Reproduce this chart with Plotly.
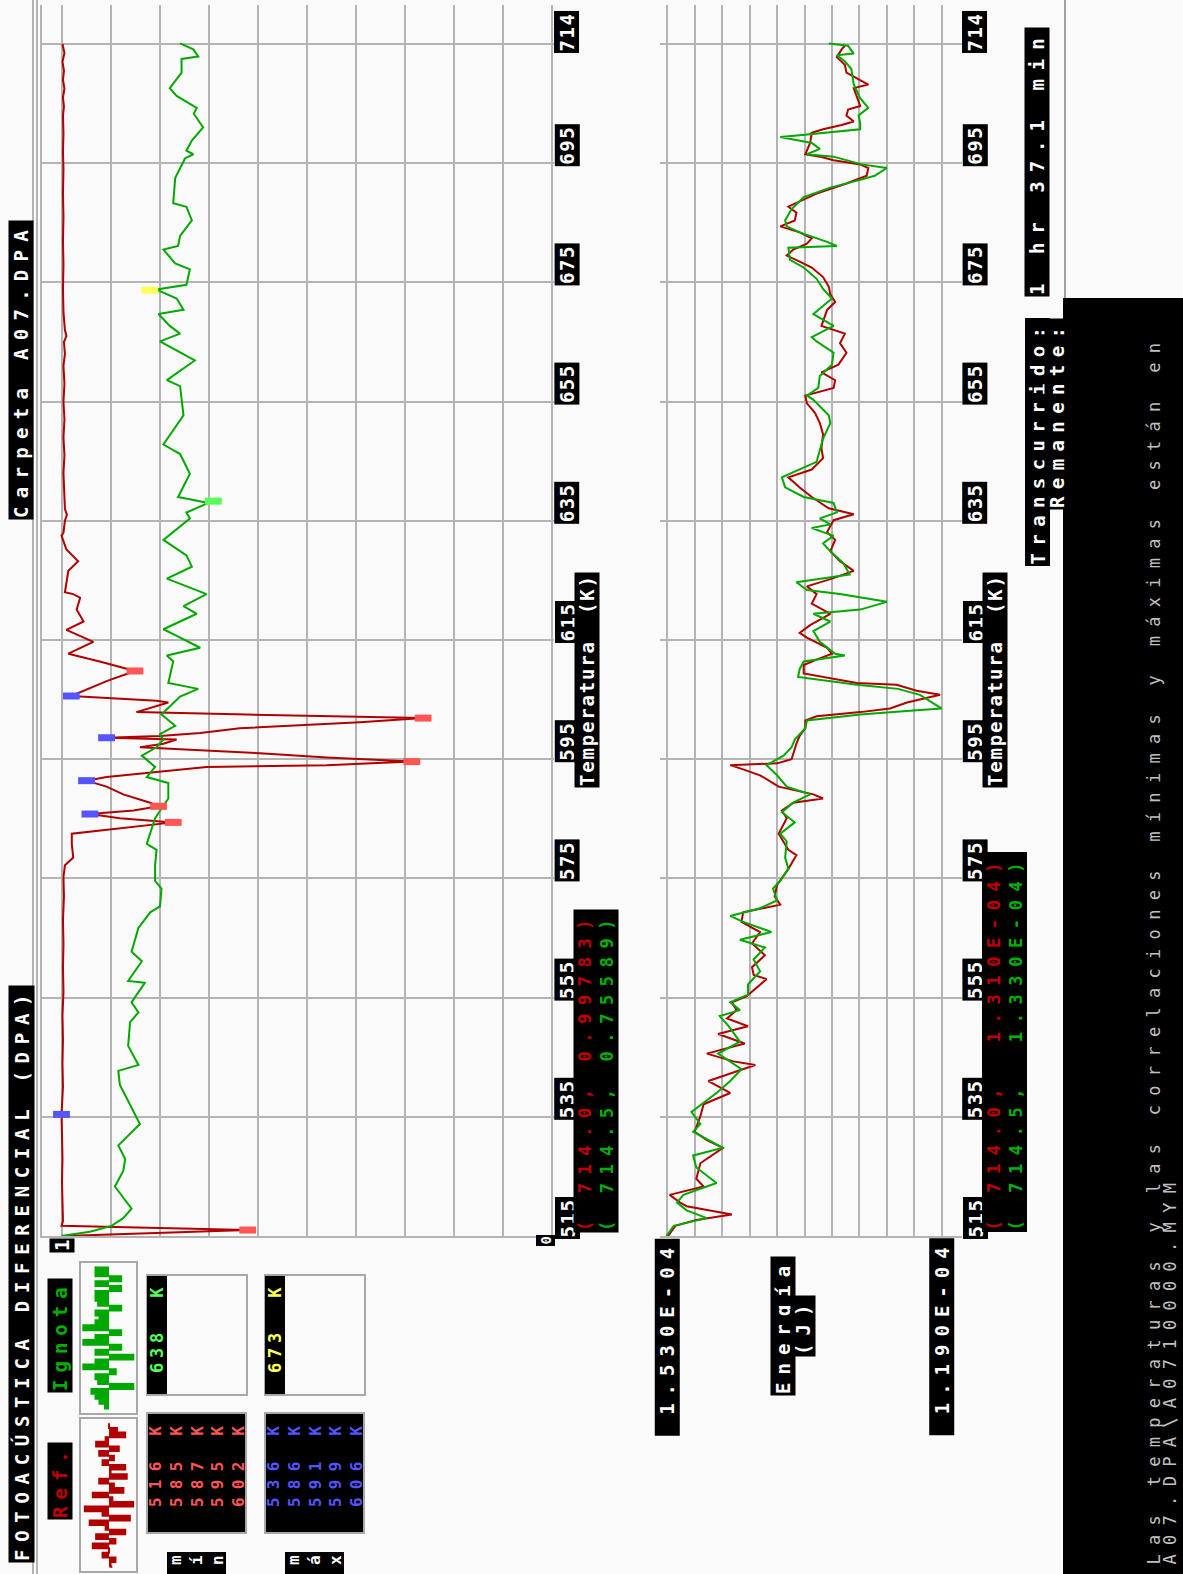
import plotly.graph_objects as go

W, H = 1183, 1574

# ------------------------------------------------------------------ data
temp_ticks = [515, 535, 555, 575, 595, 615, 635, 655, 675, 695, 714]

# correlation, reference sample (T [K], correlation)
ref_corr_pts = [
    (715.0, 0.998), (713.5, 0.994), (712.0, 0.998), (710.5, 0.995), (709.0, 0.997), (707.5, 0.994),
    (706.0, 0.997), (704.5, 0.995), (703.0, 0.997), (700.0, 0.996), (697.0, 0.997), (694.0, 0.996),
    (690.0, 0.997), (686.0, 0.996), (682.0, 0.997), (678.0, 0.996), (674.0, 0.997), (670.0, 0.996),
    (667.0, 0.993), (666.0, 0.990), (665.0, 0.995), (663.0, 0.993), (661.0, 0.996), (658.0, 0.994),
    (655.0, 0.996), (652.0, 0.994), (649.0, 0.996), (646.0, 0.994), (643.0, 0.996), (640.0, 0.994),
    (637.0, 0.993), (636.0, 0.989), (635.0, 0.993), (633.0, 0.996), (632.5, 1.000), (630.2, 0.990),
    (628.2, 0.966), (626.6, 0.986), (623.0, 0.993), (622.7, 0.976), (622.1, 0.962), (620.1, 0.969),
    (618.1, 0.955), (616.7, 0.990), (614.7, 0.935), (612.7, 0.986), (611.4, 0.922), (609.8, 0.850),
    (608.1, 0.908), (605.6, 0.980), (605.2, 0.901), (604.8, 0.806), (604.5, 0.782), (602.9, 0.847),
    (602.5, 0.622), (601.9, 0.262), (601.2, 0.391), (600.2, 0.636), (599.4, 0.717), (598.9, 0.799),
    (598.6, 0.908), (598.3, 0.765), (597.6, 0.792), (597.0, 0.840), (596.0, 0.595), (595.3, 0.459),
    (594.6, 0.285), (594.0, 0.459), (593.7, 0.704), (593.0, 0.785), (592.0, 0.908), (591.4, 0.949),
    (590.4, 0.908), (589.1, 0.874), (587.7, 0.819), (587.1, 0.802), (586.4, 0.853), (585.8, 0.942),
    (585.1, 0.881), (584.4, 0.772), (583.8, 0.840), (582.5, 0.979), (580.8, 0.979), (578.5, 0.976),
    (577.2, 0.993), (575.2, 0.996), (572.0, 0.995), (568.0, 0.997), (564.0, 0.996), (560.0, 0.997),
    (556.0, 0.996), (552.0, 0.998), (548.0, 0.997), (544.0, 0.998), (540.0, 0.997), (536.0, 0.999),
    (535.4, 1.000), (532.0, 0.999), (528.0, 0.998), (524.0, 0.999), (520.0, 0.998), (517.5, 0.997),
    (516.7, 1.000), (516.0, 0.620), (515.0, 0.995),
]

# correlation, unknown sample
ign_corr_pts = [
    (715.1, .758), (714.1, .731), (712.9, .721), (712.5, .755), (710.2, .755), (707.6, .779), (706.3, .765),
    (704.3, .724), (703.3, .730), (701.0, .711), (698.8, .734), (697.1, .745), (696.5, .731), (695.8, .748),
    (692.5, .768), (688.3, .772), (687.7, .745), (685.4, .734), (682.8, .758), (681.1, .762), (680.5, .792),
    (678.2, .768), (677.2, .738), (674.6, .745), (673.8, .806), (672.3, .765), (670.4, .751), (669.7, .802),
    (667.7, .779), (666.4, .758), (665.1, .799), (661.9, .728), (658.6, .785), (657.6, .758), (652.7, .751),
    (647.8, .792), (646.2, .758), (642.9, .738), (639.0, .762), (638.0, .700), (636.4, .745), (635.4, .738),
    (631.8, .792), (629.2, .745), (627.3, .734), (625.3, .785), (622.7, .704), (620.7, .751), (619.4, .724),
    (616.8, .792), (616.0, .772), (613.7, .717), (612.4, .785), (611.4, .772), (607.8, .782), (606.8, .721),
    (605.5, .758), (602.5, .796), (600.6, .768), (599.2, .799), (598.3, .792), (597.0, .806), (595.6, .836),
    (593.7, .809), (592.0, .826), (591.0, .782), (588.4, .782), (585.1, .809), (580.8, .826), (579.8, .806),
    (577.2, .809), (574.6, .809), (573.3, .796), (570.3, .799), (569.3, .819), (566.7, .843), (562.7, .857),
    (561.1, .836), (557.8, .864), (557.5, .830), (554.2, .857), (552.5, .843), (550.9, .860), (546.9, .864),
    (543.7, .843), (542.7, .884), (540.4, .881), (533.8, .840), (530.2, .884), (527.9, .870), (525.9, .874),
    (523.3, .891), (519.6, .857), (518.0, .874), (516.7, .898), (515.7, .942), (515.0, 1.000),
]

# extremes of the correlation
ref_min_T = [516.0, 584.4, 587.1, 594.6, 601.9, 609.8]
ref_min_v = [0.620, 0.772, 0.802, 0.285, 0.262, 0.850]
ref_max_T = [535.4, 585.8, 591.4, 598.6, 605.6]
ref_max_v = [1.000, 0.942, 0.949, 0.908, 0.980]
ign_min_T = [638.3]
ign_min_v = [0.690]
ign_max_T = [673.7]
ign_max_v = [0.820]

# energy (units of 1e-4 J)
ref_en_pts = [
    (714.7, 1.310), (714.1, 1.314), (712.8, 1.320), (711.5, 1.310), (710.2, 1.308), (708.9, 1.291), (708.2, 1.281),
    (707.6, 1.299), (705.9, 1.295), (704.6, 1.291), (704.0, 1.306), (703.0, 1.308), (702.0, 1.299), (701.4, 1.314),
    (700.7, 1.337), (700.1, 1.351), (698.4, 1.353), (696.5, 1.359), (696.1, 1.341), (695.5, 1.324), (694.8, 1.291),
    (694.2, 1.281), (692.9, 1.283), (691.6, 1.308), (689.9, 1.345), (688.6, 1.366), (687.7, 1.380), (686.7, 1.370),
    (685.4, 1.372), (684.4, 1.390), (683.4, 1.366), (682.4, 1.351), (681.5, 1.357), (680.5, 1.374), (679.5, 1.382),
    (678.5, 1.366), (677.5, 1.351), (675.9, 1.337), (674.3, 1.330), (673.0, 1.328), (671.7, 1.322), (670.4, 1.332),
    (667.7, 1.339), (666.4, 1.310), (664.8, 1.316), (663.2, 1.308), (661.2, 1.318), (659.9, 1.339), (658.6, 1.322),
    (657.3, 1.324), (656.0, 1.359), (654.7, 1.357), (653.1, 1.347), (651.4, 1.341), (649.5, 1.337), (647.2, 1.339),
    (645.5, 1.337), (643.6, 1.351), (642.3, 1.380), (640.6, 1.366), (639.0, 1.351), (637.1, 1.330), (636.1, 1.299),
    (635.1, 1.324), (633.1, 1.332), (631.8, 1.322), (629.9, 1.328), (628.2, 1.316), (626.6, 1.299), (625.3, 1.326),
    (624.0, 1.357), (622.7, 1.345), (621.1, 1.351), (619.4, 1.328), (617.5, 1.353), (616.2, 1.366), (615.4, 1.357),
    (613.7, 1.332), (612.7, 1.326), (611.7, 1.345), (610.8, 1.361), (609.4, 1.361), (608.5, 1.322), (607.8, 1.295),
    (607.5, 1.246), (606.5, 1.221), (605.8, 1.192), (605.2, 1.213), (604.5, 1.233), (603.5, 1.254), (602.9, 1.291),
    (602.2, 1.345), (601.5, 1.359), (600.2, 1.359), (598.9, 1.366), (597.6, 1.370), (595.0, 1.376), (594.3, 1.394),
    (594.0, 1.452), (593.3, 1.436), (592.3, 1.415), (590.4, 1.392), (589.1, 1.349), (588.4, 1.337), (587.7, 1.374),
    (586.4, 1.388), (585.1, 1.382), (582.5, 1.392), (579.8, 1.380), (578.9, 1.370), (576.6, 1.380), (573.9, 1.394),
    (572.0, 1.397), (570.6, 1.390), (570.0, 1.411), (569.3, 1.436), (567.7, 1.438), (566.0, 1.415), (564.1, 1.425),
    (562.1, 1.409), (560.1, 1.425), (558.8, 1.423), (558.1, 1.407), (556.2, 1.423), (555.2, 1.432), (554.2, 1.450),
    (552.9, 1.444), (551.5, 1.456), (550.2, 1.430), (548.9, 1.467), (547.3, 1.434), (545.6, 1.481), (544.3, 1.448),
    (543.7, 1.421), (542.0, 1.458), (541.0, 1.479), (539.0, 1.452), (537.1, 1.485), (535.1, 1.489), (532.5, 1.496),
    (531.1, 1.481), (529.8, 1.461), (527.2, 1.489), (524.6, 1.494), (523.3, 1.485), (521.9, 1.527), (520.6, 1.514),
    (520.0, 1.506), (518.6, 1.450), (517.7, 1.494), (516.7, 1.520), (515.0, 1.529),
]

ign_en_pts = [
    (715.1, 1.330), (714.7, 1.306), (713.4, 1.299), (713.1, 1.320), (712.1, 1.310), (710.8, 1.302), (708.2, 1.299),
    (705.9, 1.291), (704.3, 1.281), (703.0, 1.293), (701.7, 1.291), (700.7, 1.291), (699.7, 1.366), (699.4, 1.390),
    (698.4, 1.351), (697.4, 1.341), (696.5, 1.357), (696.1, 1.324), (694.8, 1.289), (694.2, 1.258), (692.9, 1.273),
    (692.2, 1.291), (690.9, 1.328), (689.3, 1.361), (687.3, 1.376), (685.4, 1.384), (684.4, 1.382), (683.4, 1.366),
    (681.8, 1.332), (681.1, 1.320), (680.8, 1.380), (678.8, 1.378), (677.5, 1.361), (675.6, 1.345), (673.9, 1.337),
    (672.3, 1.326), (669.7, 1.349), (668.7, 1.337), (667.7, 1.324), (665.8, 1.351), (665.1, 1.345), (663.2, 1.324),
    (661.2, 1.326), (659.3, 1.341), (657.3, 1.343), (656.0, 1.357), (655.3, 1.349), (652.7, 1.330), (651.4, 1.328),
    (648.8, 1.337), (644.9, 1.345), (642.3, 1.388), (640.6, 1.384), (639.0, 1.361), (638.0, 1.324), (636.4, 1.320),
    (635.4, 1.341), (634.4, 1.328), (633.8, 1.351), (633.1, 1.337), (632.5, 1.324), (631.2, 1.337), (629.9, 1.328),
    (627.9, 1.312), (626.0, 1.304), (624.7, 1.370), (623.4, 1.357), (622.7, 1.316), (621.4, 1.258), (620.1, 1.291),
    (619.4, 1.349), (618.1, 1.328), (616.5, 1.349), (614.7, 1.341), (612.7, 1.322), (612.4, 1.310), (611.4, 1.361),
    (610.1, 1.366), (608.8, 1.368), (607.5, 1.295), (606.8, 1.244), (605.8, 1.217), (603.5, 1.190), (603.2, 1.221),
    (602.5, 1.291), (601.5, 1.357), (600.2, 1.359), (598.3, 1.372), (597.0, 1.376), (595.6, 1.386), (594.0, 1.407),
    (592.3, 1.394), (590.4, 1.382), (589.1, 1.353), (587.7, 1.374), (586.1, 1.388), (584.4, 1.372), (582.5, 1.390),
    (581.2, 1.382), (578.5, 1.384), (576.6, 1.380), (574.6, 1.390), (573.3, 1.399), (571.3, 1.394), (570.0, 1.415),
    (568.7, 1.452), (567.7, 1.436), (566.0, 1.401), (564.7, 1.440), (563.4, 1.409), (561.4, 1.423), (559.4, 1.415),
    (557.2, 1.430), (555.5, 1.430), (554.2, 1.452), (552.9, 1.440), (551.9, 1.465), (550.2, 1.454), (547.6, 1.440),
    (545.6, 1.467), (543.0, 1.438), (541.0, 1.452), (539.0, 1.469), (535.8, 1.500), (533.8, 1.489), (532.5, 1.498),
    (529.8, 1.461), (528.5, 1.498), (526.5, 1.494), (523.9, 1.469), (521.9, 1.510), (520.6, 1.518), (519.3, 1.506),
    (518.0, 1.481), (516.7, 1.522), (515.0, 1.531),
]

# thumbnails of the two signals
icon_ref = [0, .31, .63, -.13, -.5, .38, -.38, .19, -.25, .63, .06, .69, -.38, .19, .56, -.63,
            .13, .94, -.94, -.25, .81, -.75, -.13, .63, -.5, .25, -.63, 0, -.25, .25, .06, .13]
icon_ign = [-1, -1, .9, -1, .9, -1, -1, -.8, .9, -1, -.7, -1, -1.9, .9, -1, -1.9, .9, -1, 1.8, -1,
            -1.9, .5, -1, -.8, 1.8, -1.3, -1, -.7, -.3, 0]

ref_min_list = [516, 585, 587, 595, 602]
ref_max_list = [536, 586, 591, 599, 606]
ign_min_K = 638
ign_max_K = 673
cursor_ref = (714.0, 0.99783, 1.310e-4)
cursor_ign = (714.5, 0.75589, 1.330e-4)
en_axis_labels = ["1.530E-04", "1.190E-04"]
en_axis_values = [1.530, 1.190]

# ------------------------------------------------------------------ style
RED, GREEN = "#b00000", "#00a800"
GRID = "#b4b4b4"
MONO = "DejaVu Sans Mono"


def unzip(pts):
    return [p[0] for p in pts], [p[1] for p in pts]


def fx(x):
    return x / W


def fy(y):
    return 1 - y / H


def fmt(s, ls, color=None, bold=True):
    s = s.replace(" ", "\u00a0")
    style = f"letter-spacing:{ls}px"
    if color:
        style += f";color:{color}"
    out = f'<span style="{style}">{s}</span>'
    return f"<b>{out}</b>" if bold else out


def rot(html, x, y, size=17, color="white", bg="black", xanchor="center", yanchor="middle",
        xref="paper", yref="paper", align="left", yshift=0, xshift=0, pad=1):
    return dict(text=html, x=fx(x) if xref == "paper" else x, y=fy(y) if yref == "paper" else y,
                xref=xref, yref=yref, xanchor=xanchor, yanchor=yanchor, showarrow=False,
                textangle=-90, align=align, bgcolor=bg, borderpad=pad, yshift=yshift, xshift=xshift,
                font=dict(family=MONO, size=size, color=color))


fig = go.Figure()

# correlation panel
T, v = unzip(ref_corr_pts)
fig.add_trace(go.Scatter(x=v, y=T, mode="lines", line=dict(color=RED, width=2), xaxis="x", yaxis="y"))
T, v = unzip(ign_corr_pts)
fig.add_trace(go.Scatter(x=v, y=T, mode="lines", line=dict(color=GREEN, width=2), xaxis="x", yaxis="y"))


def markers(xs, ys, col, ax="x", ay="y"):
    return go.Scatter(x=xs, y=ys, mode="markers", xaxis=ax, yaxis=ay,
                      marker=dict(symbol="line-ew", size=12, line=dict(color=col, width=7)))


fig.add_trace(markers(ref_min_v, ref_min_T, "#ff5555"))
fig.add_trace(markers(ref_max_v, ref_max_T, "#5555ff"))
fig.add_trace(markers(ign_min_v, ign_min_T, "#55ff55"))
fig.add_trace(markers(ign_max_v, ign_max_T, "#ffff55"))

# energy panel
T, e = unzip(ref_en_pts)
fig.add_trace(go.Scatter(x=e, y=T, mode="lines", line=dict(color=RED, width=2), xaxis="x2", yaxis="y2"))
T, e = unzip(ign_en_pts)
fig.add_trace(go.Scatter(x=e, y=T, mode="lines", line=dict(color=GREEN, width=2), xaxis="x2", yaxis="y2"))

# thumbnails
fig.add_trace(go.Scatter(x=icon_ref, y=list(range(len(icon_ref))), mode="lines", xaxis="x3", yaxis="y3",
                         line=dict(color=RED, width=2, shape="vh"), fill="tozerox", fillcolor=RED))
fig.add_trace(go.Scatter(x=icon_ign, y=list(range(len(icon_ign))), mode="lines", xaxis="x4", yaxis="y4",
                         line=dict(color=GREEN, width=2, shape="vh"), fill="tozerox", fillcolor=GREEN))

ydom = [fy(1236), fy(5)]
yrange = [515, 515 + 1231 / 5.96]
common = dict(showgrid=True, gridcolor=GRID, gridwidth=2, zeroline=False, showticklabels=False, ticks="")

layout = dict(
    width=W, height=H, margin=dict(l=0, r=0, t=0, b=0), showlegend=False,
    paper_bgcolor="#fafafa", plot_bgcolor="rgba(0,0,0,0)",
    xaxis=dict(domain=[fx(42), fx(554)], range=[1 + 19.5 / 490, -2.5 / 490], tick0=0, dtick=0.1,
               anchor="y", showline=True, linecolor=GRID, linewidth=2, **common),
    yaxis=dict(domain=ydom, range=yrange, tick0=515, dtick=20, anchor="x",
               showline=True, linecolor=GRID, linewidth=2, **common),
    xaxis2=dict(domain=[fx(660), fx(962)], range=[1.539, 1.1649], tick0=1.19, dtick=0.034,
                anchor="y2", showline=True, linecolor=GRID, linewidth=2, **common),
    yaxis2=dict(domain=ydom, range=yrange, tick0=515, dtick=20, anchor="x2", showline=False, **common),
    xaxis3=dict(domain=[fx(82), fx(136)], range=[-1.05, 1.05], anchor="y3", visible=False),
    yaxis3=dict(domain=[fy(1569), fy(1421)], range=[len(icon_ref) - 0.5, -0.5], anchor="x3", visible=False),
    xaxis4=dict(domain=[fx(82), fx(136)], range=[-2.0, 2.0], anchor="y4", visible=False),
    yaxis4=dict(domain=[fy(1411), fy(1264)], range=[len(icon_ign) - 0.5, -0.5], anchor="x4", visible=False),
)
fig.update_layout(**layout)

# ------------------------------------------------------------------ frame shapes
shapes = []


def rect(x0, y0, x1, y1, fill=None, line=None, lw=2):
    shapes.append(dict(type="rect", xref="paper", yref="paper", x0=fx(x0), x1=fx(x1), y0=fy(y1), y1=fy(y0),
                       fillcolor=fill or "rgba(0,0,0,0)", line=dict(color=line or "rgba(0,0,0,0)", width=lw if line else 0)))


def vline(x, y0, y1, col=GRID, w=2):
    shapes.append(dict(type="line", xref="paper", yref="paper", x0=fx(x), x1=fx(x), y0=fy(y0), y1=fy(y1),
                       line=dict(color=col, width=w)))


vline(33, 0, H)
vline(37, 0, H)
vline(1065, 0, 300, col="#a0a0a0")
rect(1063, 298, W + 2, H + 2, fill="black")
# thumbnails
rect(80, 1418, 137, 1572, line="#a8a8a8")
rect(80, 1262, 137, 1414, line="#a8a8a8")
# extreme lists
rect(147, 1413, 246, 1533, fill="black", line="#a8a8a8")
rect(265, 1413, 364, 1533, fill="black", line="#a8a8a8")
rect(147, 1275, 247, 1395, line="#a8a8a8")
rect(265, 1275, 365, 1395, line="#a8a8a8")
rect(147, 1276, 167, 1394, fill="black")
rect(265, 1276, 285, 1394, fill="black")
rect(167, 1552, 226, H + 2, fill="black")
rect(285, 1552, 344, H + 2, fill="black")
fig.update_layout(shapes=shapes)

# ------------------------------------------------------------------ texts
ann = []
WIDE = 8.0   # letter spacing for the wide DOS-style texts at size 19
for t in temp_ticks:
    ann.append(rot(fmt(str(t), 1.5), 567, t, size=19, yref="y", yanchor="bottom", yshift=-4))
    ann.append(rot(fmt(str(t), 1.5), 975, t, size=19, yref="y2", yanchor="bottom", yshift=-4))
for xc in (587, 995):
    ann.append(rot(fmt("Temperatura  (K)", 1.8), xc, 680, size=19))

ref_line = f"( {cursor_ref[0]:.1f}, {cursor_ref[1]:.5f})"
ign_line = f"( {cursor_ign[0]:.1f}, {cursor_ign[1]:.5f})"
ann.append(rot(fmt(ref_line, 8.6, "#c00000") + "<br>" + fmt(ign_line, 8.6, "#00b000"),
               596, 1233, size=17, yanchor="bottom"))
ref_line = f"( {cursor_ref[0]:.1f},  {cursor_ref[2]:.3E})"
ign_line = f"( {cursor_ign[0]:.1f},  {cursor_ign[2]:.3E})"
ann.append(rot(fmt(ref_line, 8.6, "#c00000") + "<br>" + fmt(ign_line, 8.6, "#00b000"),
               1004, 1233, size=17, yanchor="bottom"))

# value axis labels
ann.append(rot(fmt("1", 0), 1.0, 1238, size=19, xref="x", yanchor="top"))
ann.append(rot(fmt("0", 0), 0.0, 1235, size=14, xref="x", yanchor="top", xshift=-6))
for lab, val in zip(en_axis_labels, en_axis_values):
    ann.append(rot(fmt(" " + lab, WIDE), val, 1238, size=19, xref="x2", yanchor="top"))
ann.append(rot(fmt("Energía", WIDE), 783, 1326, size=19))
ann.append(rot(fmt("(J)", WIDE), 803, 1326, size=19))

# title and header
ann.append(rot(fmt("FOTOACÚSTICA DIFERENCIAL (DPA)", 7.7), 21, 985, size=19, yanchor="top"))
ann.append(rot(fmt("Carpeta A07.DPA", WIDE + 0.3), 21, 220, size=19, yanchor="top"))
ann.append(rot(fmt("1 hr 37.1 min", WIDE + 1.0), 1037, 162, size=19))
ann.append(rot(fmt("Transcurrido:", 7.4), 1037, 318, size=19, yanchor="top"))
ann.append(rot(fmt("Remanente:", 7.4), 1057, 318, size=19, yanchor="top"))

# sample names
ann.append(rot(fmt("Ref.", 7.0), 60, 1481, size=19, color="#c00000"))
ann.append(rot(fmt("Ignota", 7.0), 60, 1336, size=19, color="#00b000"))

# extreme lists
lines = "<br>".join(fmt(f"{k} K", 8.2) for k in ref_min_list)
ann.append(rot(lines, 197, 1463, size=16, color="#ff5555", bg="rgba(0,0,0,0)"))
lines = "<br>".join(fmt(f"{k} K", 8.2) for k in ref_max_list)
ann.append(rot(lines, 315, 1463, size=16, color="#5555ff", bg="rgba(0,0,0,0)"))
ann.append(rot(fmt(f"{ign_min_K}  K", 4.8), 157, 1328, size=17, color="#55ff55", bg="rgba(0,0,0,0)"))
ann.append(rot(fmt(f"{ign_max_K}  K", 4.8), 275, 1328, size=17, color="#ffff55", bg="rgba(0,0,0,0)"))
ann.append(rot("<br>".join(fmt(c, 0) for c in "mín"), 196, 1553, size=16, yanchor="top", bg="rgba(0,0,0,0)"))
ann.append(rot("<br>".join(fmt(c, 0) for c in "máx"), 314, 1553, size=16, yanchor="top", bg="rgba(0,0,0,0)"))

# footer message
ann.append(rot(fmt("Las temperaturas y las correlaciones mínimas y máximas están en", 9.3, bold=False),
               1153, 1567, size=17, color="#c0c0c0", bg="rgba(0,0,0,0)", yanchor="bottom"))
ann.append(rot(fmt("A07.DPA\\A0710000.MYM", 9.3, bold=False),
               1169, 1567, size=17, color="#c0c0c0", bg="rgba(0,0,0,0)", yanchor="bottom"))

fig.update_layout(annotations=ann)
fig.write_html("out.html")
